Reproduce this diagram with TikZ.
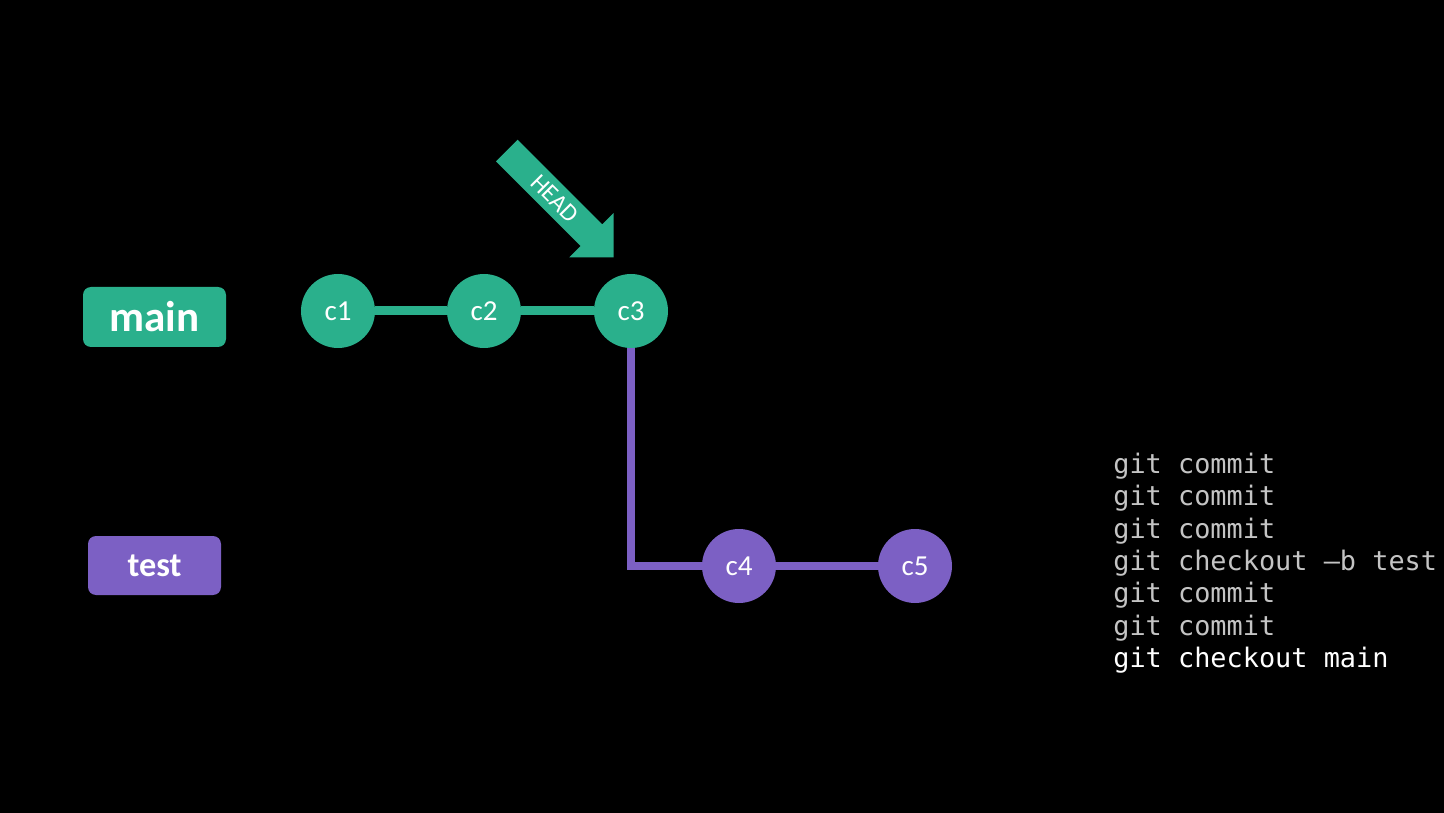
\documentclass[tikz,border=0pt]{standalone}
\usepackage{fontspec}
\setmainfont{Carlito}
\newfontfamily\termfont{DejaVu Sans Mono}
\usepackage{xcolor}
\usepackage{tikz}
\usetikzlibrary{shapes.arrows, positioning, calc}
\definecolor{maingreen}{RGB}{42, 176, 140}
\definecolor{testpurple}{RGB}{124, 96, 196}
\definecolor{termgray}{RGB}{196, 196, 196}

\begin{document}
\begin{tikzpicture}[
    branch/.style={rectangle, rounded corners=0.16cm, draw=none, text=white, font=\bfseries, inner sep=0pt},
    commit/.style={circle, minimum size=1.48cm, inner sep=0pt, text=white, font=\fontsize{16.5pt}{18pt}\selectfont},
    pointer/.style={single arrow, fill=maingreen, text=white, draw=none, rotate=-45,
        single arrow head extend=0.32cm, minimum height=3.02cm, inner xsep=2pt, inner ysep=4pt,
        text height=9pt, text depth=0pt, font=\fontsize{14pt}{16pt}\selectfont},
    cmd/.style={anchor=base west, inner sep=0pt, text=termgray, font=\termfont\fontsize{15.3pt}{18pt}\selectfont},
    greenline/.style={maingreen, line width=0.18cm},
    purpleline/.style={testpurple, line width=0.16cm}
]
% Canvas
\useasboundingbox (0,0) rectangle (28.88,16.24);
\fill[black] (-0.2,-0.2) rectangle (29.08,16.44);

% Branch labels
\node[branch, fill=maingreen, minimum width=2.86cm, minimum height=1.2cm, font=\bfseries\fontsize{24.5pt}{28pt}\selectfont] (main) at (3.09,9.9) {main};
\node[branch, fill=testpurple, minimum width=2.66cm, minimum height=1.18cm, font=\bfseries\fontsize{19.5pt}{22pt}\selectfont] (test) at (3.09,4.93) {test};

% Commits on main
\node[commit, fill=maingreen] (c1) at (6.76,10.02) {c1};
\node[commit, fill=maingreen] (c2) at (9.68,10.02) {c2};
\node[commit, fill=maingreen] (c3) at (12.62,10.02) {c3};

% Commits on test
\node[commit, fill=testpurple] (c4) at (14.78,4.92) {c4};
\node[commit, fill=testpurple] (c5) at (18.30,4.92) {c5};

% History lines
\draw[greenline] (c1.east) -- (c2.west);
\draw[greenline] (c2.east) -- (c3.west);
\draw[purpleline] (c3.south) -- (c3.south |- c4.west) -- (c4.west);
\draw[purpleline] (c4.east) -- (c5.west);

% HEAD
\node[pointer, anchor=tip] (head) at ([shift={(-0.34,0.32)}]c3.north) {HEAD};

% Commands
\foreach \txt [count=\i] in {git commit, git commit, git commit, git checkout –b test, git commit, git commit}
    \node[cmd] (cmd\i) at (22.26, {6.77-0.647*(\i-1)}) {\txt};
\node[cmd, text=white] (cmd7) at (22.26, {6.77-0.647*6}) {git checkout main};
\end{tikzpicture}
\end{document}
